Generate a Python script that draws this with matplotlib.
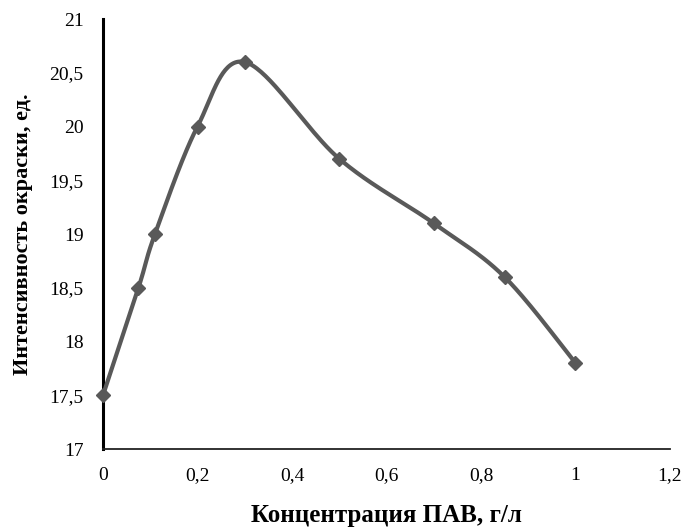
import numpy as np
import matplotlib
matplotlib.use("Agg")
import matplotlib.pyplot as plt
from matplotlib.ticker import FuncFormatter

conc = [0.0, 0.075, 0.11, 0.2, 0.3, 0.5, 0.7, 0.85, 1.0]
intensity = [17.5, 18.5, 19.0, 20.0, 20.6, 19.7, 19.1, 18.6, 17.8]
x_ticks = [0, 0.2, 0.4, 0.6, 0.8, 1.0, 1.2]
y_ticks = [17, 17.5, 18, 18.5, 19, 19.5, 20, 20.5, 21]

plt.rcParams['font.family'] = ['Liberation Serif', 'DejaVu Serif']

fig = plt.figure(figsize=(6.84, 5.30), dpi=100)
ax = fig.add_axes([0.1506, 0.1528, 0.8289, 0.8113])

# smooth curve (Catmull-Rom Bezier like Excel's smoothed line)
x = np.array(conc); y = np.array(intensity)
sx = 567 / 1.2; sy = 215.0
px = x * sx; py = y * sy
xs, ys = [], []
n = len(px)
for i in range(n - 1):
    p0 = np.array([px[max(i - 1, 0)], py[max(i - 1, 0)]])
    p1 = np.array([px[i], py[i]])
    p2 = np.array([px[i + 1], py[i + 1]])
    p3 = np.array([px[min(i + 2, n - 1)], py[min(i + 2, n - 1)]])
    c1 = p1 + (p2 - p0) / 6
    c2 = p2 - (p3 - p1) / 6
    t = np.linspace(0, 1, 40)[:, None]
    b = (1 - t) ** 3 * p1 + 3 * (1 - t) ** 2 * t * c1 + 3 * (1 - t) * t ** 2 * c2 + t ** 3 * p2
    xs.extend(b[:, 0] / sx); ys.extend(b[:, 1] / sy)

ax.plot(xs, ys, color='#595959', lw=3, solid_capstyle='round', zorder=3)
ax.plot(conc, intensity, linestyle='none', marker='D', color='#595959', markersize=7, zorder=4, clip_on=False)

ax.set_xlim(0, 1.2)
ax.set_ylim(17, 21)
ax.set_xticks(x_ticks)
ax.set_yticks(y_ticks)
fmt = FuncFormatter(lambda v, p: ('%g' % v).replace('.', ','))
ax.xaxis.set_major_formatter(fmt)
ax.yaxis.set_major_formatter(fmt)
ax.tick_params(length=0, labelsize=14)
ax.tick_params(axis='x', pad=13)
ax.tick_params(axis='y', pad=14)
for s in ['top', 'right']:
    ax.spines[s].set_visible(False)
ax.spines['left'].set_linewidth(2.2)
ax.spines['bottom'].set_linewidth(1.3)
ax.spines['left'].set_color('black')
ax.spines['bottom'].set_color('#222222')

ax.set_xlabel('Концентрация ПАВ, г/л', fontsize=18, fontweight='bold', labelpad=14)
ax.set_ylabel('Интенсивность окраски, ед.', fontsize=16, fontweight='bold', labelpad=12)

fig.savefig('out.png', dpi=100)
